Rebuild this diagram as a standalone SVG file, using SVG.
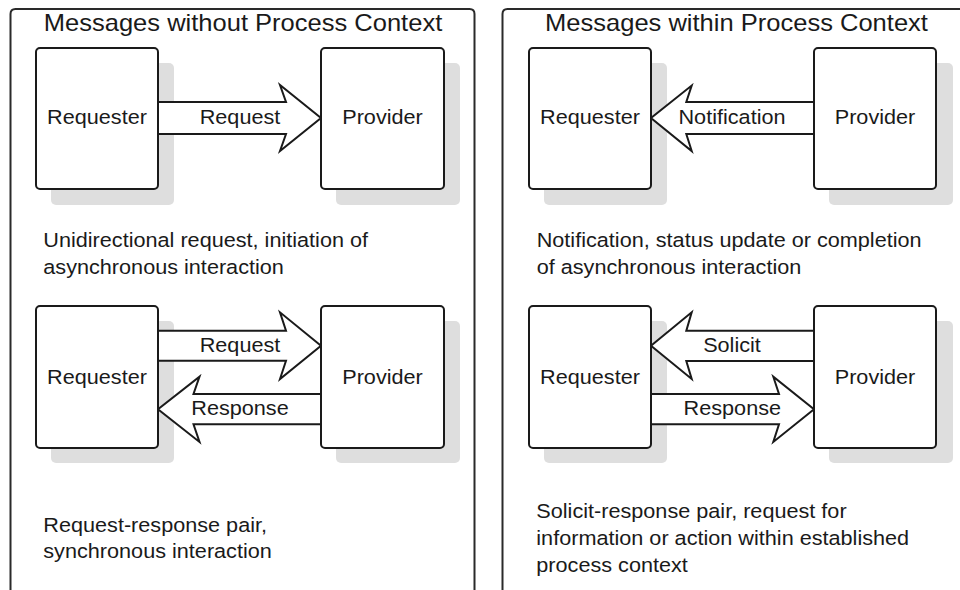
<svg xmlns="http://www.w3.org/2000/svg" width="960" height="590" viewBox="0 0 960 590">
<style>
  .frame { fill: none; stroke: #2a2a2a; stroke-width: 2; }
  .box { fill: #ffffff; stroke: #1a1a1a; stroke-width: 2; }
  .shadow { fill: #dedede; stroke: none; }
  .arrow { fill: #ffffff; stroke: #1a1a1a; stroke-width: 2; stroke-linejoin: miter; }
  text { font-family: "Liberation Sans", Arial, sans-serif; fill: #1a1a1a; }
  .title { font-size: 23px; text-anchor: middle; }
  .lbl { font-size: 19.5px; text-anchor: middle; }
  .desc { font-size: 19.5px; }
</style>
<rect width="960" height="590" fill="#ffffff"/>

<g id="panel-left">
  <path class="frame" d="M10.5,592 L10.5,14 Q10.5,9 15.5,9 L469.5,9 Q474.5,9 474.5,14 L474.5,592"/>
  <text class="title" transform="translate(243,31) scale(1.11,1)">Messages without Process Context</text>
  <text class="desc" transform="translate(43.3,246.7) scale(1.11,1)">Unidirectional request, initiation of</text>
  <text class="desc" transform="translate(43.3,274.3) scale(1.11,1)">asynchronous interaction</text>
  <text class="desc" transform="translate(43.3,531.7) scale(1.11,1)">Request-response pair,</text>
  <text class="desc" transform="translate(43.3,558.3) scale(1.11,1)">synchronous interaction</text>
</g>

<g id="panel-right">
  <path class="frame" d="M502.5,592 L502.5,14 Q502.5,9 507.5,9 L962,9"/>
  <text class="title" transform="translate(736.5,31) scale(1.11,1)">Messages within Process Context</text>
  <text class="desc" transform="translate(536.7,246.7) scale(1.11,1)">Notification, status update or completion</text>
  <text class="desc" transform="translate(536.7,274.3) scale(1.11,1)">of asynchronous interaction</text>
  <text class="desc" transform="translate(536.3,518.3) scale(1.11,1)">Solicit-response pair, request for</text>
  <text class="desc" transform="translate(536.3,545) scale(1.11,1)">information or action within established</text>
  <text class="desc" transform="translate(536.3,571.7) scale(1.11,1)">process context</text>
</g>

<!-- shadows -->
<g id="shadows">
  <rect class="shadow" x="51" y="63" width="123" height="142" rx="5"/>
  <rect class="shadow" x="336" y="63" width="124" height="142" rx="5"/>
  <rect class="shadow" x="51" y="321" width="123" height="142" rx="5"/>
  <rect class="shadow" x="336" y="321" width="124" height="142" rx="5"/>
  <rect class="shadow" x="544" y="63" width="123" height="142" rx="5"/>
  <rect class="shadow" x="829" y="63" width="124" height="142" rx="5"/>
  <rect class="shadow" x="544" y="321" width="123" height="142" rx="5"/>
  <rect class="shadow" x="829" y="321" width="124" height="142" rx="5"/>
</g>

<g id="connectors">
  <g id="c1-request">
    <path class="arrow" d="M158,102 L286,102 L280,85 L321,118 L280,151 L286,134 L158,134 Z"/>
    <text class="lbl" transform="translate(240,124) scale(1.11,1)">Request</text>
  </g>
  <g id="c2-request">
    <path class="arrow" d="M158,330.7 L286,330.7 L280,312.3 L321,345.7 L280,379 L286,360.7 L158,360.7 Z"/>
    <text class="lbl" transform="translate(240,351.7) scale(1.11,1)">Request</text>
  </g>
  <g id="c3-response">
    <path class="arrow" d="M321,394 L193.5,394 L199.5,376.7 L158,409.3 L199.5,442 L193.5,424.3 L321,424.3 Z"/>
    <text class="lbl" transform="translate(240,415) scale(1.11,1)">Response</text>
  </g>
  <g id="c4-notification">
    <path class="arrow" d="M814,102 L686.3,102 L691.7,85.5 L651,118 L691.7,151 L686.3,134 L814,134 Z"/>
    <text class="lbl" transform="translate(732,124) scale(1.11,1)">Notification</text>
  </g>
  <g id="c5-solicit">
    <path class="arrow" d="M814,330.7 L686.3,330.7 L691.7,312.3 L651,345.7 L691.7,379 L686.3,361 L814,361 Z"/>
    <text class="lbl" transform="translate(732,351.7) scale(1.11,1)">Solicit</text>
  </g>
  <g id="c6-response">
    <path class="arrow" d="M651,394 L779,394 L773.3,376.7 L814,409.3 L773.3,442 L779,424.3 L651,424.3 Z"/>
    <text class="lbl" transform="translate(732.3,415) scale(1.11,1)">Response</text>
  </g>
</g>

<g id="requester-1">
  <rect class="box" x="36" y="48" width="122" height="141" rx="4"/>
  <text class="lbl" transform="translate(97,124) scale(1.11,1)">Requester</text>
</g>
<g id="provider-1">
  <rect class="box" x="321" y="48" width="123" height="141" rx="4"/>
  <text class="lbl" transform="translate(382.5,124) scale(1.11,1)">Provider</text>
</g>
<g id="requester-2">
  <rect class="box" x="36" y="306" width="122" height="142" rx="4"/>
  <text class="lbl" transform="translate(97,384) scale(1.11,1)">Requester</text>
</g>
<g id="provider-2">
  <rect class="box" x="321" y="306" width="123" height="142" rx="4"/>
  <text class="lbl" transform="translate(382.5,384) scale(1.11,1)">Provider</text>
</g>
<g id="requester-3">
  <rect class="box" x="529" y="48" width="122" height="141" rx="4"/>
  <text class="lbl" transform="translate(590,124) scale(1.11,1)">Requester</text>
</g>
<g id="provider-3">
  <rect class="box" x="814" y="48" width="122" height="141" rx="4"/>
  <text class="lbl" transform="translate(875,124) scale(1.11,1)">Provider</text>
</g>
<g id="requester-4">
  <rect class="box" x="529" y="306" width="122" height="142" rx="4"/>
  <text class="lbl" transform="translate(590,384) scale(1.11,1)">Requester</text>
</g>
<g id="provider-4">
  <rect class="box" x="814" y="306" width="122" height="142" rx="4"/>
  <text class="lbl" transform="translate(875,384) scale(1.11,1)">Provider</text>
</g>
</svg>
